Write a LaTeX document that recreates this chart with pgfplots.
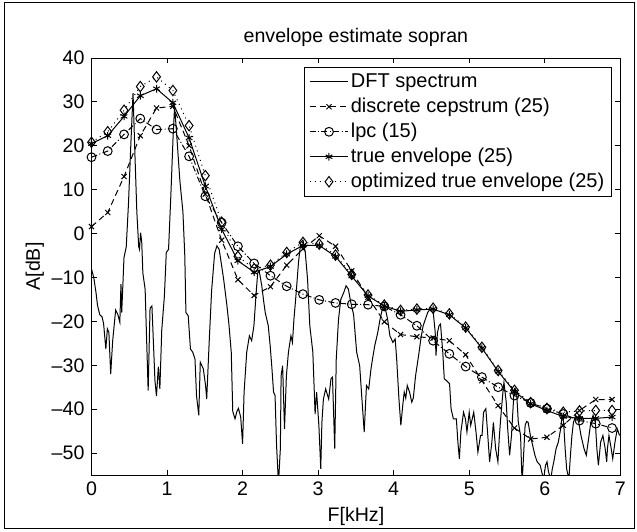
\documentclass[border=0pt]{standalone}
\usepackage{fontspec}
\setmainfont{Liberation Sans}
\usepackage{pgfplots}
\pgfplotsset{compat=1.18}

% envelope sample points: every 10th bin (21.533 Hz bins)
\pgfplotstableread{
f      tru    opt    cep    lpc
0.000  20.5   20.8    1.6   17.4
0.215  22.3   23.2    4.8   18.8
0.431  26.7   28.1   13.0   22.6
0.646  31.4   33.5   22.3   26.2
0.861  33.0   35.7   28.6   23.7
1.077  29.8   32.6   29.0   23.9
1.292  21.8   24.6   20.0   17.6
1.507  10.8   13.2    9.0    8.5
1.723   1.0    2.6   -1.5    2.5
1.938  -6.2   -5.2  -10.5   -2.9
2.153  -8.8   -8.0  -14.1   -6.8
2.369  -7.5   -7.2  -12.1   -9.6
2.584  -4.7   -4.3   -7.2  -12.0
2.799  -2.7   -2.0   -3.5  -13.8
3.015  -2.7   -2.4   -0.5  -15.1
3.230  -5.2   -4.9   -2.9  -15.8
3.445  -9.7   -9.3   -8.5  -16.1
3.661 -14.2  -14.0  -14.5  -16.2
3.876 -16.5  -16.3  -20.1  -16.6
4.091 -17.7  -17.5  -23.0  -18.5
4.307 -17.4  -17.2  -23.5  -21.0
4.522 -17.2  -17.0  -23.8  -24.4
4.737 -18.5  -18.3  -24.4  -27.4
4.953 -21.5  -21.3  -27.6  -30.3
5.168 -26.1  -25.9  -33.5  -32.7
5.383 -31.4  -31.2  -39.2  -35.0
5.599 -36.0  -35.7  -44.3  -36.9
5.814 -38.8  -38.5  -46.8  -38.6
6.029 -40.3  -39.8  -46.4  -39.9
6.245 -41.7  -40.7  -43.7  -41.1
6.460 -42.1  -40.4  -40.3  -42.6
6.675 -42.1  -40.3  -37.8  -43.3
6.891 -41.8  -40.3  -37.8  -44.3
}\envtab

\begin{document}
\begin{tikzpicture}
\path[use as bounding box] (0,0) rectangle (318.5pt,265.5pt);
\draw[line width=0.5pt] (2pt,1.5pt) rectangle (317pt,264pt);
\begin{axis}[
  at={(45.75pt,28pt)}, anchor=south west,
  scale only axis, width=264.4pt, height=208.5pt,
  xmin=0, xmax=7, ymin=-55, ymax=40,
  xtick={0,1,...,7}, ytick={-50,-40,...,40},
  yticklabels={\textendash50,\textendash40,\textendash30,\textendash20,
    \textendash10,0,10,20,30,40},
  font=\fontsize{9.8}{11.5}\selectfont,
  /pgf/number format/assume math mode=true,
  tick style={line width=0.5pt, black},
  major tick length=2.5pt,
  axis line style={line width=0.5pt},
  title={envelope estimate sopran},
  title style={yshift=-4pt},
  xlabel={F[kHz]}, ylabel={A[dB]},
  xlabel style={yshift=1pt},
  ylabel style={yshift=-3pt},
  every axis plot/.append style={line width=0.5pt, black},
  legend cell align=left,
  legend style={at={(0.984,0.979)}, anchor=north east, draw=black,
    line width=0.5pt, inner xsep=2.5pt, inner ysep=1pt, row sep=0pt,
    font=\fontsize{10}{12}\selectfont,
    nodes={inner sep=1pt, text height=8pt, text depth=2.5pt}},
  legend image code/.code={\draw[mark repeat=2,mark phase=2,#1]
    plot coordinates {(0cm,0cm)(0.34cm,0cm)(0.68cm,0cm)};},
]
\addplot[solid, no marks] coordinates {
(0.00,-8.1)(0.03,-10.0)(0.06,-13.5)(0.08,-16.4)(0.11,-18.5)(0.14,-19.0)
(0.16,-20.5)(0.19,-26.3)(0.21,-21.7)(0.23,-22.5)(0.254,-32.0)(0.28,-24.5)
(0.32,-17.4)(0.35,-18.5)(0.375,-20.2)(0.39,-11.5)(0.40,-18.0)(0.43,-5.5)
(0.46,-3.0)(0.49,7.0)(0.52,20.0)(0.55,32.0)(0.575,18.0)(0.60,5.0)
(0.625,-3.0)(0.635,-3.6)(0.65,0.2)(0.665,-2.0)(0.68,-9.0)(0.71,-12.7)
(0.75,-35.8)(0.775,-17.0)(0.80,-16.5)(0.84,-33.5)(0.86,-37.0)(0.885,-30.3)
(0.905,-35.4)(0.93,-22.0)(0.965,-14.2)(0.99,-4.3)(1.02,-3.6)(1.05,8.5)
(1.08,22.0)(1.10,29.0)(1.13,22.0)(1.17,12.0)(1.21,5.0)(1.235,-5.0)
(1.25,-18.0)(1.28,-18.7)(1.31,-26.3)(1.34,-27.0)(1.37,-28.6)(1.39,-36.9)
(1.42,-41.4)(1.44,-29.3)(1.48,-30.8)(1.51,-34.6)(1.525,-37.7)(1.557,-25.0)
(1.59,-13.0)(1.63,-4.5)(1.66,-2.8)(1.69,-3.6)(1.72,-7.0)(1.75,-10.5)
(1.79,-16.0)(1.82,-20.8)(1.85,-27.0)(1.87,-40.5)(1.90,-42.2)(1.925,-40.5)
(1.945,-39.8)(1.975,-41.8)(2.00,-47.9)(2.02,-36.1)(2.055,-27.0)(2.09,-23.3)
(2.12,-24.4)(2.15,-21.0)(2.18,-13.4)(2.20,-9.0)(2.22,-8.5)(2.254,-11.9)
(2.28,-15.5)(2.30,-18.0)(2.34,-21.0)(2.365,-25.5)(2.386,-30.1)(2.41,-36.1)
(2.43,-36.9)(2.45,-48.3)(2.475,-57.0)(2.50,-49.0)(2.51,-32.4)(2.53,-30.1)
(2.555,-44.5)(2.58,-32.4)(2.607,-27.0)(2.64,-23.3)(2.66,-24.8)(2.68,-19.5)
(2.71,-13.4)(2.74,-6.6)(2.77,-2.0)(2.80,-1.5)(2.83,-4.3)(2.86,-10.4)
(2.89,-21.0)(2.93,-27.0)(2.96,-41.1)(2.98,-36.1)(3.01,-43.7)(3.035,-53.6)
(3.05,-43.0)(3.07,-37.7)(3.10,-35.4)(3.14,-37.7)(3.17,-33.1)(3.19,-32.7)
(3.22,-49.0)(3.24,-28.6)(3.27,-19.5)(3.30,-15.0)(3.34,-13.4)(3.37,-11.9)
(3.40,-12.6)(3.43,-15.5)(3.47,-18.5)(3.51,-27.0)(3.55,-30.1)(3.58,-37.7)
(3.61,-45.2)(3.64,-34.6)(3.67,-35.4)(3.70,-30.8)(3.72,-28.6)(3.75,-25.5)
(3.79,-22.5)(3.82,-19.5)(3.85,-17.2)(3.88,-16.4)(3.92,-19.5)(3.95,-23.3)
(3.99,-24.8)(4.02,-24.0)(4.04,-28.6)(4.07,-37.7)(4.095,-43.7)(4.12,-39.2)
(4.14,-36.1)(4.16,-37.5)(4.18,-34.6)(4.21,-36.1)(4.24,-38.4)(4.26,-37.5)
(4.29,-32.4)(4.33,-27.8)(4.36,-24.0)(4.39,-21.0)(4.42,-19.5)(4.45,-18.0)
(4.48,-17.2)(4.52,-17.2)(4.55,-22.5)(4.56,-27.8)(4.58,-22.5)(4.60,-21.0)
(4.62,-20.6)(4.65,-27.0)(4.67,-33.1)(4.70,-33.5)(4.74,-34.2)(4.76,-39.9)
(4.79,-42.2)(4.83,-42.2)(4.85,-47.5)(4.87,-51.3)(4.89,-45.2)(4.925,-40.7)
(4.95,-42.2)(4.97,-45.2)(5.00,-40.7)(5.02,-43.7)(5.06,-40.7)(5.09,-45.2)
(5.115,-49.8)(5.15,-46.0)(5.17,-46.0)(5.19,-40.7)(5.22,-39.9)(5.24,-44.5)
(5.27,-52.0)(5.30,-47.5)(5.32,-43.0)(5.35,-49.0)(5.38,-52.0)(5.40,-46.0)
(5.42,-41.4)(5.45,-35.4)(5.46,-33.9)(5.49,-38.4)(5.51,-44.5)(5.535,-50.5)
(5.56,-46.0)(5.59,-36.9)(5.61,-35.4)(5.63,-36.9)(5.65,-43.0)(5.68,-46.0)
(5.70,-57.0)(5.72,-50.5)(5.74,-43.7)(5.76,-42.8)(5.78,-43.0)(5.81,-46.0)
(5.85,-49.0)(5.87,-50.5)(5.90,-52.0)(5.94,-52.8)(5.96,-54.3)(5.985,-56.0)
(6.01,-52.8)(6.03,-52.0)(6.05,-54.3)(6.08,-56.0)(6.10,-53.6)(6.12,-52.0)
(6.15,-49.0)(6.18,-47.5)(6.21,-44.5)(6.23,-41.4)(6.25,-43.0)(6.27,-49.0)
(6.29,-53.6)(6.32,-56.0)(6.34,-50.5)(6.36,-46.0)(6.38,-43.0)(6.41,-41.4)
(6.45,-43.0)(6.48,-46.0)(6.52,-49.0)(6.55,-50.5)(6.58,-46.8)(6.61,-43.0)
(6.64,-41.4)(6.67,-43.0)(6.69,-49.0)(6.71,-52.8)(6.74,-47.5)(6.77,-46.0)
(6.80,-49.0)(6.82,-52.0)(6.83,-49.0)(6.85,-46.0)(6.88,-49.0)(6.90,-51.3)
(6.93,-47.5)(6.96,-44.5)(6.99,-46.0)
};
\addlegendentry{DFT spectrum}
\addplot[dash pattern=on 3pt off 2pt, mark=x, mark size=1.8pt,
  mark options={solid}] table[x=f, y=cep] {\envtab};
\addlegendentry{discrete cepstrum (25)}
\addplot[dash pattern=on 3pt off 1.2pt on 0.5pt off 1.2pt, mark=o,
  mark size=2.2pt, mark options={solid}] table[x=f, y=lpc] {\envtab};
\addlegendentry{lpc (15)}
\addplot[solid, mark=asterisk, mark size=1.9pt] table[x=f, y=tru] {\envtab};
\addlegendentry{true envelope (25)}
\addplot[dotted, mark=diamond, mark size=2.6pt, mark options={solid}]
  table[x=f, y=opt] {\envtab};
\addlegendentry{optimized true envelope (25)}
\end{axis}
\end{tikzpicture}
\end{document}
